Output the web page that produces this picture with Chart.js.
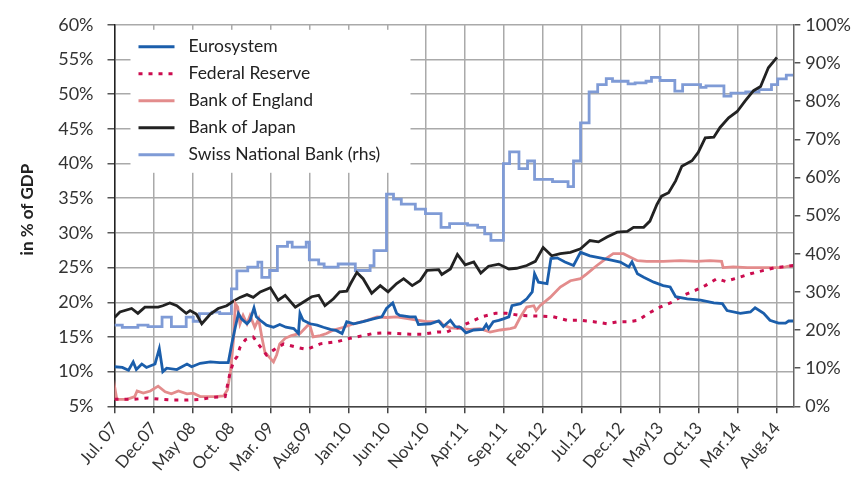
<!DOCTYPE html>
<html>
<head>
<meta charset="utf-8">
<script src="https://cdn.jsdelivr.net/npm/chart.js@4.4.1/dist/chart.umd.min.js"></script>
<style>
    html, body { margin: 0; padding: 0; background: #fff; }
</style>
</head>
<body>
<canvas id="chart" width="856" height="479"></canvas>
<script>
// Tick labels (one every 5 months, starting Jul. 07 = month 0)
const xLabels = ['Jul. 07', 'Dec.07', 'May 08', 'Oct. 08', 'Mar. 09', 'Aug.09', 'Jan.10', 'Jun.10', 'Nov.10',
    'Apr.11', 'Sep.11', 'Feb.12', 'Jul.12', 'Dec.12', 'May13', 'Oct.13', 'Mar.14', 'Aug.14'];
const X_MAX = 87.1; // months after Jul. 07
const Y_TITLE = 'in % of GDP';

// Eurosystem (% of GDP, lhs)
const euroMonths = [0, 1, 1.8, 2.4, 2.8, 3.5, 4.1, 5.2, 5.75, 6.2, 6.7, 8, 9.3, 9.9, 11, 12.3, 13.5, 14.6, 15.05, 15.5,
    15.9, 16.3, 17, 17.4, 17.9, 18.2, 18.7, 19.5, 20.4, 21.2, 22, 23, 23.6, 23.8, 24.2, 25.1, 26, 26.8, 27.7, 28.5,
    29.2, 29.8, 30.7, 31.9, 33.2, 34.3, 34.9, 35.7, 36.2, 36.6, 37.9, 38.6, 39, 40.5, 41.6, 42.2, 43.1, 43.7, 44.4,
    45.1, 46.1, 47.3, 47.7, 48, 48.6, 49.3, 49.9, 50.6, 51, 52.1, 52.9, 53.6, 53.9, 54.4, 55.5, 56, 56.8, 57.8, 58.9,
    59.8, 61, 62.3, 63.6, 64.9, 66, 66.4, 67.1, 67.9, 69.2, 70.4, 71.3, 72, 73.5, 75.2, 76.9, 78, 78.6, 80.3, 81.6,
    82.2, 83.3, 84.1, 85.2, 86.1, 86.5, 87.1];
const euroValues = [10.7, 10.6, 10.2, 11.4, 10.3, 11.1, 10.6, 11.1, 13.3, 10, 10.5, 10.3, 11.1, 10.7, 11.2, 11.4, 11.3,
    11.3, 14, 16.4, 18.4, 17.6, 16.9, 17.4, 19.2, 17.9, 17.4, 16.7, 16.4, 16.8, 16.4, 16.2, 15.5, 18.4, 17.4, 16.9,
    16.7, 16.4, 16.1, 15.9, 15.5, 17.2, 16.9, 17.2, 17.6, 17.9, 19.1, 19.9, 18.4, 18.1, 17.9, 17.9, 16.8, 16.9, 17.3,
    16.5, 17.4, 16.5, 16.4, 15.6, 16, 16.1, 16.8, 16.2, 17.2, 17.4, 17.6, 17.9, 19.5, 19.8, 20.5, 21.5, 24.1, 22.9,
    22.7, 26.3, 26.4, 25.8, 25.3, 27.2, 26.7, 26.4, 26.1, 25.8, 25.1, 25.8, 24.1, 23.6, 22.9, 22.4, 22.2, 20.8, 20.5,
    20.3, 19.9, 19.8, 18.8, 18.4, 18.6, 19.2, 18.4, 17.4, 17, 17, 17.3, 17.3];

// Federal Reserve (lhs)
const fedMonths = [0, 2.4, 4.3, 6, 7.3, 9.3, 11, 12.7, 14.2, 14.8, 15.3, 15.7, 16.1, 16.8, 17.8, 18.7, 19.5, 20.4,
    21.7, 23.4, 24.7, 26.4, 28.5, 30.2, 33.2, 34.7, 37.9, 39.6, 41.4, 42.6, 44.4, 47.1, 48.9, 50.3, 52.1, 54.6, 56.3,
    58.1, 59.8, 61.5, 63.2, 64.7, 66, 67.2, 68.5, 70, 71.5, 73, 74.5, 75.8, 77.3, 78.4, 79.9, 81.6, 83.3, 84.8, 86.5, 87.1];
const fedValues = [6, 6, 6.2, 6, 5.9, 5.9, 6, 6.3, 6.4, 9.7, 11.6, 12.1, 13.5, 14.6, 15, 13.6, 12.4, 13.1, 14, 13.5,
    13.2, 14, 14.3, 14.8, 15.5, 15.6, 15.4, 15.4, 15.7, 15.7, 16.5, 17.9, 18.4, 18.4, 18.1, 18, 17.9, 17.4, 17.4, 17.2,
    16.9, 17.2, 17.2, 17.4, 18.4, 19.3, 20, 21, 21.7, 22.4, 23.4, 23, 23.5, 24.1, 24.6, 25, 25.2, 25.3];

// Bank of England (lhs)
const boeMonths = [0, 0.1, 0.3, 1.6, 2.6, 2.9, 3.7, 4.6, 5.6, 6.5, 7.3, 8.2, 9.3, 10.1, 11, 11.8, 12.9, 14, 14.5, 14.9,
    15.3, 15.5, 15.8, 16.1, 16.5, 17, 17.4, 18, 18.5, 18.9, 19.3, 20, 20.4, 20.8, 21.2, 21.9, 22.7, 23.8, 25, 25.5,
    26.4, 27.2, 28.1, 29.4, 30.7, 32.4, 33.7, 34.9, 36.2, 38.4, 40.1, 41.8, 42.2, 43.1, 44.4, 45.6, 46.9, 48.2, 49.5,
    50.8, 51.4, 52.1, 52.9, 53.8, 54.1, 54.6, 55.9, 57.2, 58.5, 59.8, 60.6, 61.9, 63.2, 64, 65.3, 66.2, 67.1, 68.3,
    70.4, 72.6, 74.7, 76.4, 77.9, 78.1, 79.4, 81.2, 83.3, 85.4, 86.1, 86.5, 87.1];
const boeValues = [5.9, 7.3, 6, 6, 6.4, 7.2, 6.9, 7.2, 7.9, 7.1, 6.8, 7.2, 6.8, 6.9, 6.4, 6.4, 6.4, 6.5, 7.4, 10.2, 15,
    19.8, 19.3, 16.9, 18.1, 16.9, 18.1, 16.4, 17.6, 15, 12.8, 11.9, 11.4, 12.4, 14, 14.8, 15.2, 15.5, 16.9, 15, 15.2,
    15.5, 16, 16.4, 16.9, 17.4, 17.9, 17.8, 17.9, 17.5, 17.2, 17.2, 16.7, 16.3, 16.2, 16.1, 16.2, 15.7, 16, 16.2, 16.4,
    17.9, 19.3, 19.5, 18.8, 19.5, 20.7, 22.2, 23.1, 23.4, 24.1, 25.3, 26.4, 27, 27, 26.5, 26, 25.9, 25.9, 26, 25.9, 26,
    25.9, 25, 25.1, 25, 25, 25, 25.1, 25.2, 25.2];

// Bank of Japan (lhs)
const bojMonths = [0, 0.7, 2.2, 3, 3.9, 5.6, 6.2, 7.1, 8, 9.2, 9.7, 10.5, 11.2, 12.3, 13.3, 14.4, 15.3, 16.1, 17, 17.8,
    18.7, 20, 21, 21.9, 23.2, 24.2, 25.3, 26.2, 27, 28.1, 28.9, 29.8, 30.3, 31.1, 31.9, 33, 34.1, 35.1, 36.2, 37.1,
    38.2, 39.2, 40.1, 41.6, 42, 43.1, 44, 45, 46.1, 47, 48, 49.3, 50.6, 51.6, 52.9, 54, 55, 56.1, 57.2, 58.5, 59.8, 61,
    62.1, 63.2, 64.5, 65.8, 66.6, 67.9, 68.7, 69.6, 70.2, 71.1, 72, 72.8, 74.1, 74.9, 75.8, 76.9, 77.7, 78.8, 79.9,
    80.9, 82, 82.9, 83.9, 85];
const bojValues = [17.8, 18.6, 19.1, 18.4, 19.3, 19.3, 19.5, 19.9, 19.5, 18.4, 18.8, 18.3, 16.9, 18.3, 19.1, 19.5, 20.2,
    20.7, 21.1, 20.7, 21.5, 22.1, 20.3, 21, 19.3, 20, 20.8, 21, 19.5, 20.5, 21.5, 21.6, 22.7, 24.3, 23.4, 21.3, 22.4,
    21.5, 22.7, 23.4, 22.4, 23.1, 24.6, 24.7, 24, 24.8, 26.9, 25.4, 25.8, 24.2, 25.2, 25.5, 24.8, 24.9, 25.3, 25.9,
    27.9, 26.7, 27, 27.2, 27.7, 28.9, 28.7, 29.4, 30.1, 30.2, 30.8, 30.8, 31.7, 34.1, 35.3, 35.8, 37.5, 39.6, 40.4,
    41.6, 43.7, 43.8, 45.2, 46.6, 47.5, 49, 50.5, 51.1, 53.8, 55.3];

// Swiss National Bank (rhs), month where each level starts
const snbMonths = [0, 1, 3, 4.3, 6.1, 7.3, 9.2, 10.1, 10.9, 12.5, 13.5, 15, 15.7, 17.1, 18.4, 18.9, 19.9, 20.9, 22.2,
    22.8, 24.6, 25, 26.2, 26.9, 28.7, 30.9, 32.8, 33.3, 34.9, 35.8, 36.8, 38.6, 39.9, 41.9, 43, 45.3, 46.6, 47.5, 48.3,
    49.9, 50.7, 51.9, 53, 53.9, 56.2, 58.2, 58.9, 59.8, 60.9, 62, 63.1, 63.9, 65.9, 66.8, 68.2, 68.9, 70, 71.9, 72.9,
    75.2, 75.9, 78.2, 79.1, 81, 82.7, 84.3, 85.1, 86.2, 87.1];
const snbValues = [21.3, 20.7, 21.3, 20.9, 23.4, 20.9, 23.4, 22.3, 24.3, 24.7, 24.3, 30.8, 35.5, 36.5, 37.8, 33.8, 35.6,
    41.9, 43, 41.7, 43, 38.4, 37.3, 36.5, 37.3, 35.6, 36.9, 40.8, 55.6, 54.3, 53, 51.7, 50.5, 46.9, 47.9, 47.5, 46.9,
    45.2, 43.5, 63.6, 66.7, 62.3, 64.3, 59.5, 58.9, 57.6, 64.3, 74.3, 82.4, 84.3, 85.9, 85.2, 84.5, 84.8, 85.2, 86.2,
    85.4, 82.6, 84.3, 83.6, 84, 81.3, 82.1, 82.4, 83, 84.3, 85.8, 86.8, 86.8];

const FONT = "'Lato', 'DejaVu Sans', sans-serif";
const TEXT = '#333333';

const toXY = (xs, ys) => xs.map((x, i) => ({ x: x, y: ys[i] }));

// Legend drawn inside the plot on a white box, plus the rotated y title
const insideLegend = {
    id: 'insideLegend',
    beforeDatasetsDraw(chart) {
        const { ctx, chartArea } = chart;
        const boxX = chartArea.left + 16;
        const boxY = chartArea.top + 5;
        ctx.save();
        ctx.fillStyle = '#ffffff';
        ctx.fillRect(boxX, boxY, 280, 143);
        ctx.font = `17.5px ${FONT}`;
        ctx.textBaseline = 'middle';
        chart.data.datasets.forEach((ds, i) => {
            const y = boxY + 17 + i * 27;
            ctx.strokeStyle = ds.borderColor;
            ctx.lineWidth = 3;
            ctx.setLineDash(ds.borderDash || []);
            ctx.beginPath();
            ctx.moveTo(boxX + 8, y);
            ctx.lineTo(boxX + 44, y);
            ctx.stroke();
            ctx.setLineDash([]);
            ctx.fillStyle = '#222222';
            ctx.fillText(ds.label, boxX + 58, y);
        });
        ctx.restore();
    },
    afterDraw(chart) {
        const { ctx, chartArea } = chart;
        ctx.save();
        ctx.translate(28, (chartArea.top + chartArea.bottom) / 2 - 6);
        ctx.rotate(-Math.PI / 2);
        ctx.font = `bold 17px ${FONT}`;
        ctx.fillStyle = '#222222';
        ctx.textAlign = 'center';
        ctx.textBaseline = 'middle';
        ctx.fillText(Y_TITLE, 0, 0);
        ctx.restore();
    }
};

const lineStyle = { fill: false, pointRadius: 0, borderWidth: 2.8, tension: 0 };

new Chart(document.getElementById('chart'), {
    type: 'line',
    data: {
        datasets: [
            { ...lineStyle, label: 'Eurosystem', data: toXY(euroMonths, euroValues), borderColor: '#1b5eab', yAxisID: 'y' },
            { ...lineStyle, label: 'Federal Reserve', data: toXY(fedMonths, fedValues), borderColor: '#cc0c4f',
              borderDash: [4, 6], borderWidth: 3, yAxisID: 'y' },
            { ...lineStyle, label: 'Bank of England', data: toXY(boeMonths, boeValues), borderColor: '#e38c8c', yAxisID: 'y' },
            { ...lineStyle, label: 'Bank of Japan', data: toXY(bojMonths, bojValues), borderColor: '#222222', yAxisID: 'y' },
            { ...lineStyle, label: 'Swiss National Bank (rhs)', data: toXY(snbMonths, snbValues), borderColor: '#7f9bd6',
              stepped: true, yAxisID: 'y1' }
        ]
    },
    options: {
        responsive: false,
        animation: false,
        layout: { padding: { top: 23, right: 0, bottom: 0, left: 0 } },
        plugins: { legend: { display: false }, tooltip: { enabled: false } },
        scales: {
            x: {
                type: 'linear',
                min: 0,
                max: X_MAX,
                afterBuildTicks: (scale) => { scale.ticks = xLabels.map((l, i) => ({ value: i * 5 })); },
                afterFit: (scale) => { scale.height = 72.7; },
                border: { color: '#444444', width: 1.5 },
                grid: { color: '#aaaaaa', lineWidth: 1.5, tickLength: 7, tickColor: '#444444' },
                ticks: {
                    autoSkip: false,
                    maxRotation: 50,
                    minRotation: 50,
                    color: TEXT,
                    font: { family: FONT, size: 17 },
                    padding: 5,
                    callback: (v) => xLabels[Math.round(v / 5)]
                }
            },
            y: {
                position: 'left',
                min: 5,
                max: 60,
                afterFit: (scale) => { scale.width = 114.5; },
                border: { color: '#222222', width: 1.5 },
                grid: { color: '#aaaaaa', lineWidth: 1.5, tickLength: 7, tickColor: '#555555' },
                ticks: { stepSize: 5, color: TEXT, font: { family: FONT, size: 18 }, padding: 14,
                    callback: (v) => v + '%' }
            },
            y1: {
                position: 'right',
                min: 0,
                max: 100,
                afterFit: (scale) => { scale.width = 62.7; },
                border: { color: '#666666', width: 1.5 },
                grid: { drawOnChartArea: false, tickLength: 7, tickColor: '#555555', lineWidth: 1.5 },
                ticks: { stepSize: 10, color: TEXT, font: { family: FONT, size: 18 }, padding: 5,
                    callback: (v) => v + '%' }
            }
        }
    },
    plugins: [insideLegend]
});
</script>
</body>
</html>
